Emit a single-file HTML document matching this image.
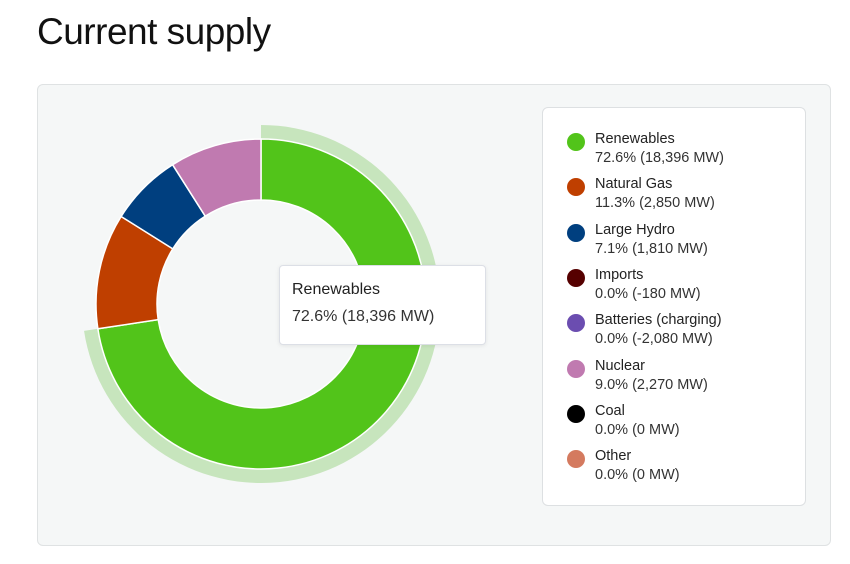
<!DOCTYPE html>
<html><head><meta charset="utf-8"><style>
body{margin:0;width:850px;height:564px;background:#fff;font-family:"Liberation Sans",sans-serif;position:relative;overflow:hidden}
h1{position:absolute;left:37px;top:11px;margin:0;font-weight:400;font-size:37px;color:#111;letter-spacing:-0.5px}
.card{position:absolute;left:37px;top:84px;width:792px;height:460px;background:#f5f7f7;border:1px solid #dfe2e3;border-radius:6px}
.legend{position:absolute;left:542px;top:107px;width:262px;height:397px;background:#fff;border:1px solid #dde0e2;border-radius:6px}
.item{position:absolute;left:0;width:260px;height:42px}
.dot{position:absolute;left:24px;top:2px;width:18px;height:18px;border-radius:50%}
.nm{position:absolute;left:52px;top:0;font-size:14.5px;color:#222}
.vl{position:absolute;left:52px;top:19px;font-size:14.5px;color:#333}
.tip{position:absolute;left:279px;top:265px;width:205px;height:78px;background:#fff;border:1px solid #dcdfe6;border-radius:4px;box-shadow:0 1px 4px rgba(0,0,0,.08)}
</style></head><body>
<h1>Current supply</h1>
<div class="card"></div>
<svg id="chart" width="850" height="564" style="position:absolute;left:0;top:0"></svg>
<div class="tip">
<div style="position:absolute;left:12px;top:15px;font-size:16px;color:#222">Renewables</div>
<div style="position:absolute;left:12px;top:42px;font-size:16px;color:#333">72.6% (18,396 MW)</div>
</div>
<div class="legend" id="legend"></div>
<script>
const names=["Renewables","Natural Gas","Large Hydro","Imports","Batteries (charging)","Nuclear","Coal","Other"];
const pcts=[72.6,11.3,7.1,0.0,0.0,9.0,0.0,0.0];
const mw=["18,396","2,850","1,810","-180","-2,080","2,270","0","0"];
const colors=["#52c41a","#bf3f00","#003f7f","#560000","#6b4db0","#c07ab0","#000000","#d47a5f"];
const svg=document.getElementById('chart');const NS='http://www.w3.org/2000/svg';
const cx=261,cy=304,ro=165,ri=104;
function pt(a,r){return [cx+r*Math.sin(a),cy-r*Math.cos(a)];}
function arc(a0,a1,r0,r1){const L=(a1-a0)>Math.PI?1:0;const p=pt(a0,r1),q=pt(a1,r1),s=pt(a1,r0),t=pt(a0,r0);
return `M${p}A${r1},${r1} 0 ${L} 1 ${q}L${s}A${r0},${r0} 0 ${L} 0 ${t}Z`;}
const total=pcts.reduce((a,b)=>a+b,0);let a=0;
pcts.forEach((v,i)=>{if(v<=0)return;const a1=a+v/total*2*Math.PI;
if(i===0){const h=document.createElementNS(NS,'path');h.setAttribute('d',arc(a,a1,ro,ro+14));h.setAttribute('fill','#c7e5bd');


svg.appendChild(h);}
const p=document.createElementNS(NS,'path');p.setAttribute('d',arc(a,a1,ri,ro));p.setAttribute('fill',colors[i]);p.setAttribute('stroke','#fff');p.setAttribute('stroke-width','1.5');


svg.appendChild(p);a=a1;});
const lg=document.getElementById('legend');
names.forEach((n,i)=>{const d=document.createElement('div');d.className='item';d.style.top=(23+i*45.3)+'px';


d.innerHTML=`<div class="dot" style="background:${colors[i]}"></div><div class="nm">${n}</div><div class="vl">${pcts[i].toFixed(1)}% (${mw[i]} MW)</div>`;
lg.appendChild(d);});
</script>
</body></html>
